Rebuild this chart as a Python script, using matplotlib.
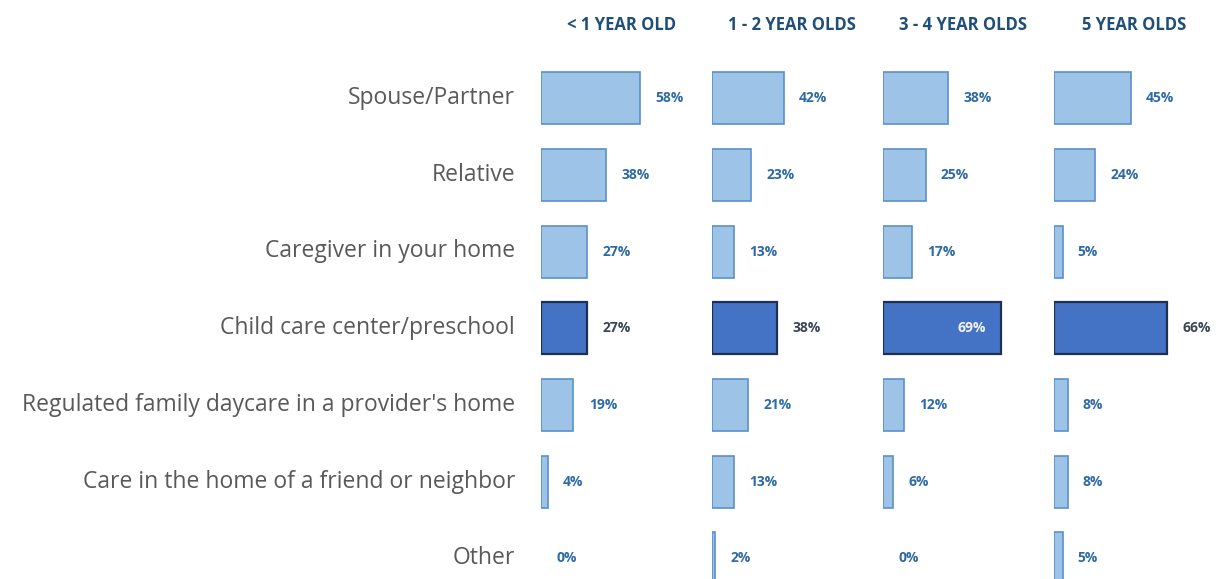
import matplotlib

matplotlib.use("Agg")
import matplotlib.pyplot as plt

plt.rcParams["font.family"] = ["Open Sans", "DejaVu Sans"]

categories = [
    "Spouse/Partner",
    "Relative",
    "Caregiver in your home",
    "Child care center/preschool",
    "Regulated family daycare in a provider's home",
    "Care in the home of a friend or neighbor",
    "Other",
]
age_groups = ["< 1 YEAR OLD", "1 - 2 YEAR OLDS", "3 - 4 YEAR OLDS", "5 YEAR OLDS"]
under_1 = [58, 38, 27, 27, 19, 4, 0]
age_1_2 = [42, 23, 13, 38, 21, 13, 2]
age_3_4 = [38, 25, 17, 69, 12, 6, 0]
age_5 = [45, 24, 5, 66, 8, 8, 5]
series = [under_1, age_1_2, age_3_4, age_5]
highlight = "Child care center/preschool"

LIGHT = "#9dc3e6"
LIGHT_EDGE = "#5b8fc9"
DARK = "#4472c4"
DARK_EDGE = "#1f2f4f"
LABEL = "#2e6aa8"
LABEL_DARK = "#3b4556"

fig = plt.figure(figsize=(12.31, 5.79), dpi=100)
left, right = 541 / 1231, 1225 / 1231
top, bottom = 1 - 60 / 579, 0.0
panel_w = (right - left) / 4

for p, (title, values) in enumerate(zip(age_groups, series)):
    ax = fig.add_axes([left + p * panel_w, bottom, panel_w, top - bottom])
    ax.set_xlim(0, 100)
    ax.set_ylim(6.27, -0.5)
    ax.axis("off")
    for i, (cat, v) in enumerate(zip(categories, values)):
        hi = cat == highlight
        if v > 0:
            ax.barh(i, v, height=0.68, color=DARK if hi else LIGHT,
                    edgecolor=DARK_EDGE if hi else LIGHT_EDGE,
                    linewidth=1.6 if hi else 1.2)
        txt = f"{v}%"
        if v >= 60 and p == 2:
            ax.annotate(txt, (v, i), xytext=(-11, 0), textcoords="offset points",
                        ha="right", va="center", fontsize=10, fontweight="bold",
                        color="#f2f2f2")
        else:
            ax.annotate(txt, (v, i), xytext=(11, 0), textcoords="offset points",
                        ha="left", va="center", fontsize=10, fontweight="bold",
                        color=LABEL_DARK if hi else LABEL)
    fig.text(left + (p + 0.47) * panel_w, 1 - 25 / 579, title, ha="center",
             va="center", fontsize=12, fontweight="bold", color="#1f4e79")

for i, cat in enumerate(categories):
    y = 1 - (98 + i * 76.7) / 579
    fig.text(515 / 1231, y, cat, ha="right", va="center", fontsize=16.5,
             color="#595959")

fig.savefig("out.png", dpi=100)
